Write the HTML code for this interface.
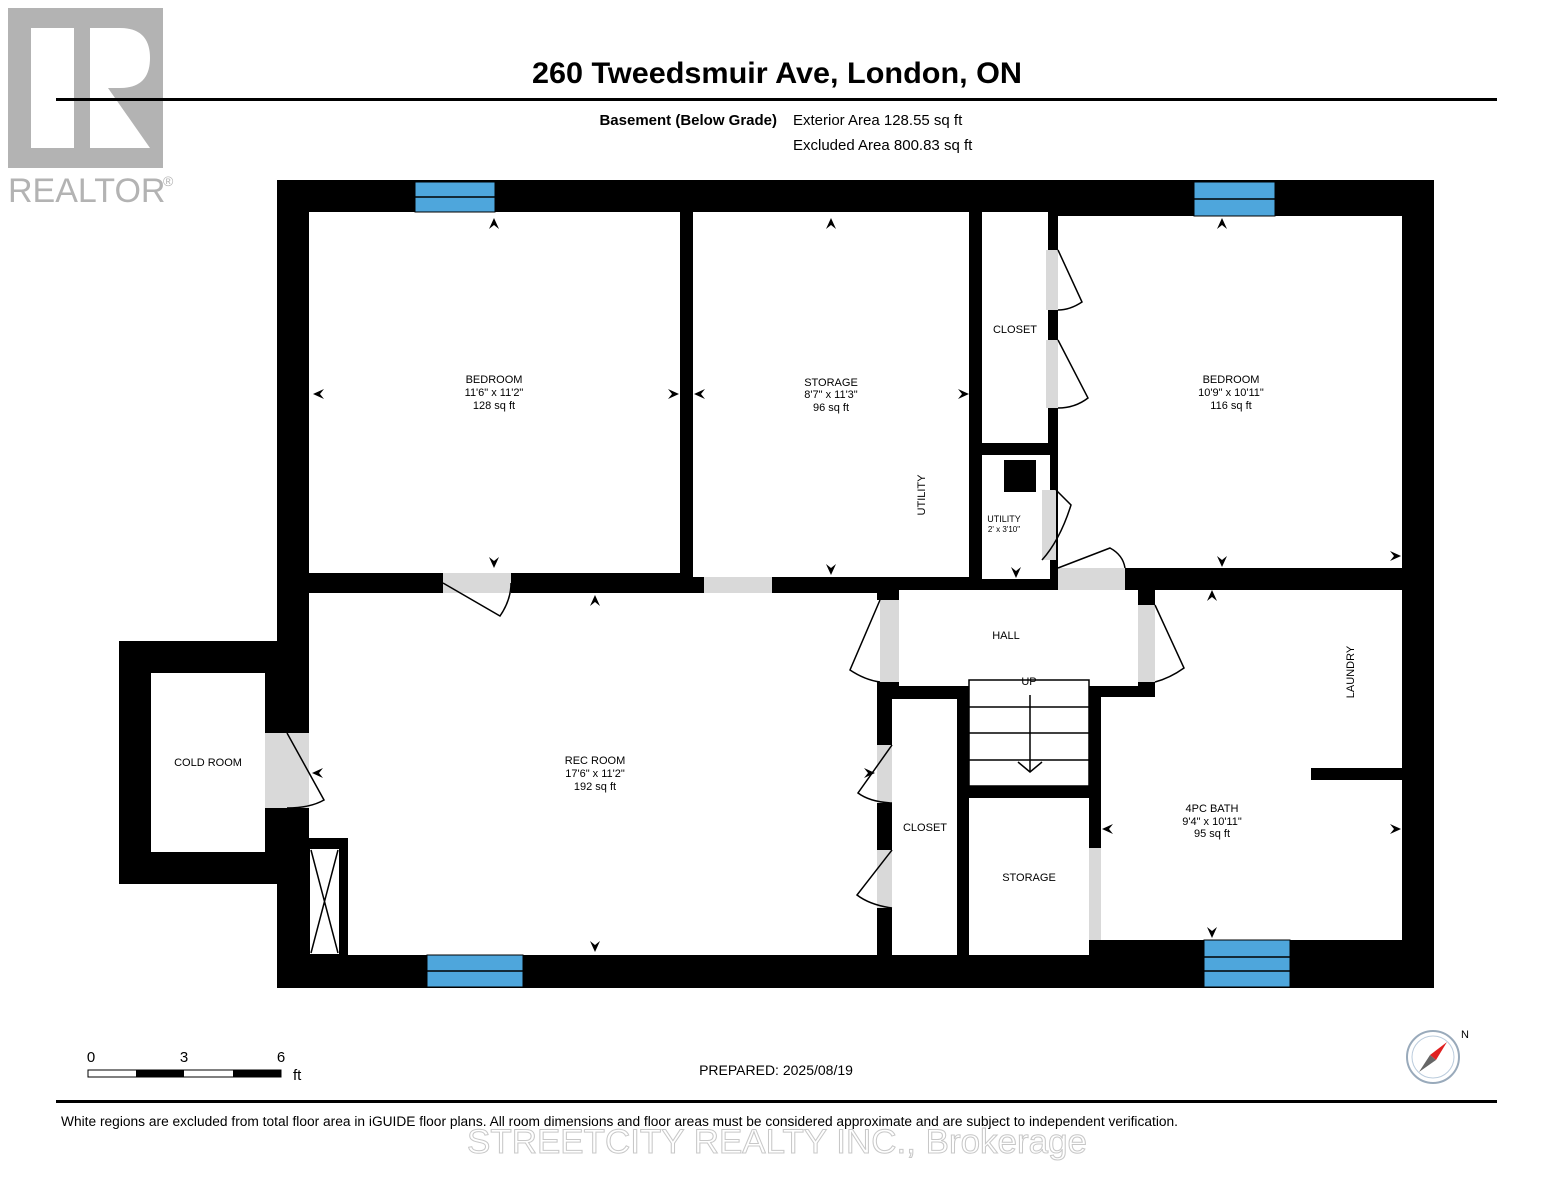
<!DOCTYPE html>
<html><head><meta charset="utf-8"><style>
body{margin:0;background:#fff;width:1553px;height:1200px;overflow:hidden}
svg{display:block}
text{font-family:"Liberation Sans",Arial,sans-serif}
</style></head><body>
<svg width="1553" height="1200" viewBox="0 0 1553 1200">
<!-- logo -->
<rect x="8" y="8" width="155" height="160" fill="#b3b3b3"/>
<rect x="31" y="28" width="43" height="120" fill="#fff"/>
<path d="M90 28 L120 28 Q150 28 150 58 Q150 88 120 88 L108 88 L150 148 L90 148 Z" fill="#fff"/>
<text x="8" y="202" font-size="34" fill="#b3b3b3">REALTOR</text>
<text x="163" y="186" font-size="14" fill="#b3b3b3">®</text>
<!-- header -->
<text x="777" y="83" font-size="30" font-weight="bold" text-anchor="middle" textLength="490" lengthAdjust="spacingAndGlyphs">260 Tweedsmuir Ave, London, ON</text>
<rect x="56" y="98" width="1441" height="3" fill="#000"/>
<text x="777" y="125" font-size="15" font-weight="bold" text-anchor="end">Basement (Below Grade)</text>
<text x="793" y="125" font-size="15">Exterior Area 128.55 sq ft</text>
<text x="793" y="150" font-size="15">Excluded Area 800.83 sq ft</text>
<!-- walls -->
<rect x="277" y="180" width="1157" height="808" fill="#000"/>
<rect x="119" y="641" width="190" height="243" fill="#000"/>
<rect x="151" y="673" width="114" height="179" fill="#fff"/>
<g fill="#fff">
<rect x="309" y="212" width="371" height="361"/>
<rect x="693" y="212" width="276" height="365"/>
<rect x="982" y="212" width="66" height="231"/>
<rect x="982" y="455" width="68" height="124"/>
<rect x="1058" y="216" width="344" height="352"/>
<rect x="309" y="593" width="568" height="362"/>
<rect x="877" y="600" width="22" height="82"/>
<rect x="899" y="590" width="239" height="96"/>
<rect x="892" y="699" width="65" height="256"/>
<rect x="969" y="680" width="120" height="106"/>
<rect x="969" y="798" width="120" height="157"/>
<rect x="1155" y="590" width="247" height="350"/>
<rect x="1101" y="697" width="301" height="243"/>
</g>
<g fill="#000">
<rect x="877" y="682" width="22" height="17"/>
<rect x="877" y="699" width="15" height="256"/>
<rect x="1311" y="768" width="91" height="12"/>
<rect x="309" y="838" width="39" height="10"/>
<rect x="340" y="838" width="8" height="117"/>
<rect x="309" y="848" width="31" height="107" fill="#fff" stroke="#000" stroke-width="2"/>
<rect x="1004" y="460" width="32" height="32"/>
<rect x="1138" y="590" width="17" height="107"/>
<rect x="1089" y="686" width="12" height="269"/>
</g>
<path d="M311 850 L338 953 M338 850 L311 953" stroke="#000" stroke-width="1.5"/>
<!-- stairs lines -->
<g stroke="#000" stroke-width="1.5" fill="none">
<rect x="969" y="680" width="120" height="106"/>
<line x1="969" y1="707" x2="1089" y2="707"/><line x1="969" y1="733" x2="1089" y2="733"/><line x1="969" y1="760" x2="1089" y2="760"/>
<line x1="1030" y1="695" x2="1030" y2="772"/><path d="M1018 762 L1030 772 L1042 762"/>
</g>
<!-- windows -->
<g fill="#4ea6dc" stroke="#000" stroke-width="1">
<rect x="415" y="182" width="80" height="30"/>
<rect x="1194" y="182" width="81" height="34"/>
<rect x="427" y="955" width="96" height="32"/>
<rect x="1204" y="940" width="86" height="47"/>
</g>
<g stroke="#000" stroke-width="1.5">
<line x1="415" y1="197" x2="495" y2="197"/><line x1="1194" y1="199" x2="1275" y2="199"/>
<line x1="427" y1="971" x2="523" y2="971"/><line x1="1204" y1="957" x2="1290" y2="957"/><line x1="1204" y1="971" x2="1290" y2="971"/>
</g>
<!-- doors -->
<g fill="#d9d9d9">
<rect x="443" y="573" width="68" height="20"/>
<rect x="704" y="577" width="68" height="16"/>
<rect x="1058" y="568" width="67" height="22"/>
<rect x="880" y="600" width="19" height="82"/>
<rect x="1138" y="605" width="17" height="77"/>
<rect x="265" y="733" width="44" height="75"/>
<rect x="877" y="745" width="15" height="58"/>
<rect x="877" y="850" width="15" height="58"/>
<rect x="1089" y="848" width="12" height="92"/>
<rect x="1046" y="250" width="12" height="60"/>
<rect x="1046" y="340" width="12" height="68"/>
<rect x="1042" y="490" width="14" height="70"/>
</g>
<g stroke="#000" stroke-width="1.5" fill="none">
<path d="M443 583 L500 616 Q511 600 511 583"/>
<path d="M880 600 L850 670 Q865 680 880 682"/>
<path d="M1155 605 L1184 668 Q1170 678 1155 682"/>
<path d="M1058 568 L1110 548 Q1123 555 1125 568"/>
<path d="M287 733 L324 800 Q310 808 287 808"/>
<path d="M892 745 L858 793 Q870 802 892 803"/>
<path d="M892 850 L857 895 Q870 905 892 908"/>
<path d="M1058 250 L1082 302 Q1070 310 1058 310"/>
<path d="M1058 340 L1088 398 Q1075 408 1058 408"/>
<path d="M1056 490 L1071 505 Q1060 540 1042 560"/>
</g>
<!-- labels -->
<g font-size="11" text-anchor="middle">
<text x="494" y="383">BEDROOM</text><text x="494" y="396">11'6" x 11'2"</text><text x="494" y="409">128 sq ft</text>
<text x="831" y="386">STORAGE</text><text x="831" y="398">8'7" x 11'3"</text><text x="831" y="411">96 sq ft</text>
<text x="1015" y="333">CLOSET</text>
<text x="1231" y="383">BEDROOM</text><text x="1231" y="396">10'9" x 10'11"</text><text x="1231" y="409">116 sq ft</text>
<text x="1004" y="522" font-size="9">UTILITY</text><text x="1004" y="532" font-size="8">2' x 3'10"</text>
<text x="1006" y="639">HALL</text>
<text x="1029" y="685">UP</text>
<text x="595" y="764">REC ROOM</text><text x="595" y="777">17'6" x 11'2"</text><text x="595" y="790">192 sq ft</text>
<text x="208" y="766">COLD ROOM</text>
<text x="925" y="831">CLOSET</text>
<text x="1029" y="881">STORAGE</text>
<text x="1212" y="812">4PC BATH</text><text x="1212" y="825">9'4" x 10'11"</text><text x="1212" y="837">95 sq ft</text>
<text transform="translate(925,495) rotate(-90)">UTILITY</text>
<text transform="translate(1354,672) rotate(-90)">LAUNDRY</text>
</g>
<!-- dimension arrows -->
<g fill="#000">
<path d="M494 218 l-5 11 l5 -4 l5 4z"/><path d="M831 218 l-5 11 l5 -4 l5 4z"/><path d="M1222 218 l-5 11 l5 -4 l5 4z"/>
<path d="M494 568 l-5 -11 l5 4 l5 -4z"/><path d="M831 575 l-5 -11 l5 4 l5 -4z"/><path d="M1222 567 l-5 -11 l5 4 l5 -4z"/><path d="M1016 578 l-5 -11 l5 4 l5 -4z"/>
<path d="M595 595 l-5 11 l5 -4 l5 4z"/><path d="M1212 590 l-5 11 l5 -4 l5 4z"/>
<path d="M595 952 l-5 -11 l5 4 l5 -4z"/><path d="M1212 938 l-5 -11 l5 4 l5 -4z"/>
<path d="M313 394 l11 -5 l-4 5 l4 5z"/><path d="M679 394 l-11 -5 l4 5 l-4 5z"/>
<path d="M694 394 l11 -5 l-4 5 l4 5z"/><path d="M969 394 l-11 -5 l4 5 l-4 5z"/>
<path d="M1401 556 l-11 -5 l4 5 l-4 5z"/><path d="M1102 829 l11 -5 l-4 5 l4 5z"/><path d="M1401 829 l-11 -5 l4 5 l-4 5z"/>
<path d="M312 773 l11 -5 l-4 5 l4 5z"/><path d="M875 773 l-11 -5 l4 5 l-4 5z"/>
</g>
<!-- footer -->
<text x="91" y="1062" font-size="15" text-anchor="middle">0</text>
<text x="184" y="1062" font-size="15" text-anchor="middle">3</text>
<text x="281" y="1062" font-size="15" text-anchor="middle">6</text>
<text x="293" y="1080" font-size="15">ft</text>
<rect x="88" y="1070" width="193" height="7" fill="#fff" stroke="#000" stroke-width="1"/>
<rect x="136" y="1070" width="48" height="7" fill="#000"/><rect x="233" y="1070" width="48" height="7" fill="#000"/>
<text x="776" y="1075" font-size="14" text-anchor="middle">PREPARED: 2025/08/19</text>
<circle cx="1433" cy="1057" r="26" fill="#fff" stroke="#9ab" stroke-width="2"/>
<circle cx="1433" cy="1057" r="21" fill="#fff" stroke="#bcd" stroke-width="1"/>
<path d="M1447 1042 L1430 1055 L1436 1060 Z" fill="#e02020"/>
<path d="M1419 1072 L1430 1055 L1436 1060 Z" fill="#666"/>
<text x="1461" y="1038" font-size="11">N</text>
<rect x="56" y="1100" width="1441" height="3" fill="#000"/>
<text x="61" y="1126" font-size="13.5" textLength="1117" lengthAdjust="spacingAndGlyphs">White regions are excluded from total floor area in iGUIDE floor plans. All room dimensions and floor areas must be considered approximate and are subject to independent verification.</text>
<text x="777" y="1153" font-size="34" text-anchor="middle" fill="#fff" stroke="#c8c8c8" stroke-width="1" textLength="620" lengthAdjust="spacingAndGlyphs">STREETCITY REALTY INC., Brokerage</text>
</svg>
</body></html>
